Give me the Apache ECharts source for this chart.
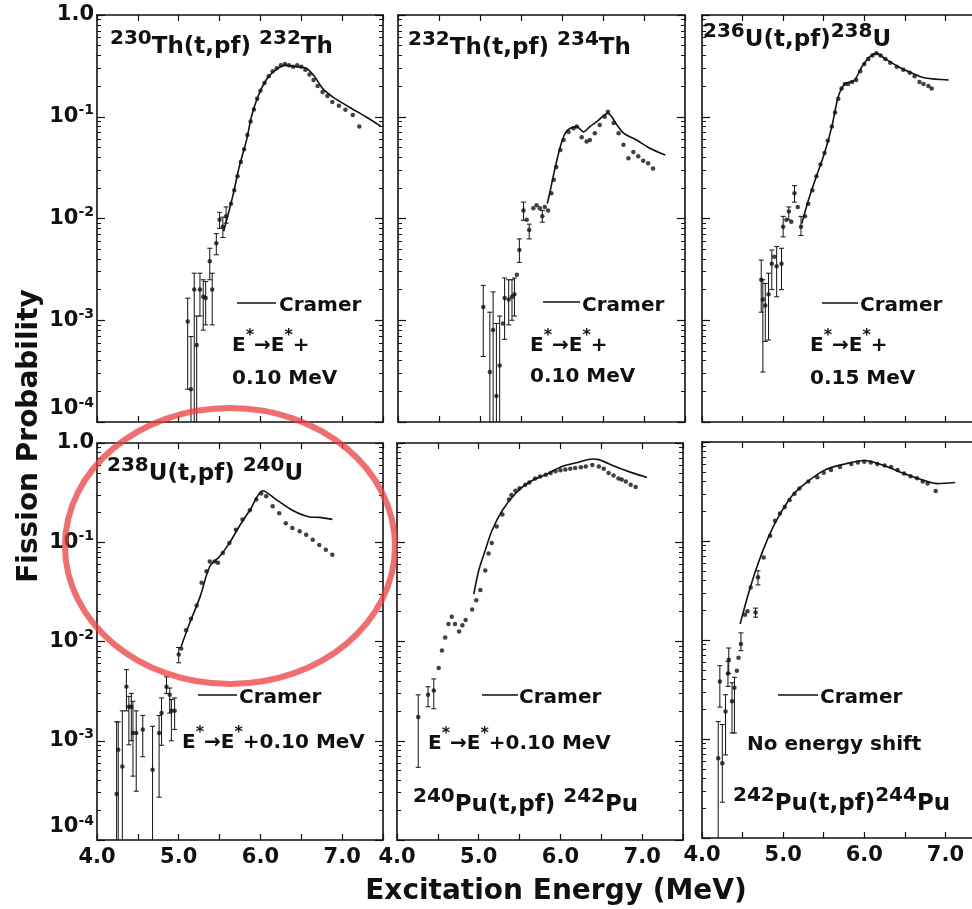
<!DOCTYPE html>
<html>
<head>
<meta charset="utf-8">
<script src="https://cdn.jsdelivr.net/npm/echarts@6.0.0/dist/echarts.min.js"></script>
<style>
	html, body { margin: 0; padding: 0; background: #fff; }
	#chart { width: 972px; height: 909px; }
</style>
</head>
<body>
<div id="chart"></div>
<script>
	// excitation energy (MeV) vs fission probability, one pair of arrays per reaction
	// points: [E, P] or [E, P, errLow, errHigh]
	const th230Cramer = [[5.55, 0.0075], [5.66, 0.0164], [5.74, 0.032], [5.83, 0.059], [5.89, 0.10], [5.97, 0.158], [6.07, 0.23], [6.19, 0.29], [6.31, 0.32], [6.43, 0.31], [6.56, 0.30], [6.66, 0.25], [6.76, 0.19], [6.88, 0.158], [7.09, 0.124], [7.29, 0.10], [7.47, 0.081]];
	const th230Points = [[5.11, 9.7e-4, 2.1e-4, 1.65e-3], [5.15, 2.1e-4, 5e-5, 6.9e-4], [5.19, 2.0e-3, 5e-5, 2.9e-3], [5.22, 5.7e-4, 5e-5, 1.1e-3], [5.26, 2.0e-3, 1.1e-3, 2.9e-3], [5.30, 1.7e-3, 8e-4, 2.5e-3], [5.33, 1.65e-3, 9e-4, 2.4e-3], [5.38, 3.8e-3, 2.5e-3, 5.1e-3], [5.41, 2.0e-3, 9e-4, 2.9e-3], [5.46, 5.7e-3, 4.4e-3, 7.1e-3], [5.50, 9.7e-3, 8e-3, 0.0115], [5.54, 8.3e-3, 6.5e-3, 0.0103], [5.58, 0.0105, 0.009, 0.013], [5.64, 0.014],
		[5.68, 0.019], [5.72, 0.026], [5.76, 0.036], [5.80, 0.048], [5.84, 0.066], [5.88, 0.09], [5.92, 0.118], [5.96, 0.15], [6.00, 0.18], [6.05, 0.215], [6.10, 0.25], [6.15, 0.28], [6.20, 0.30], [6.25, 0.32], [6.30, 0.33], [6.35, 0.32], [6.40, 0.31], [6.45, 0.32], [6.50, 0.31], [6.55, 0.29], [6.60, 0.26], [6.65, 0.23], [6.70, 0.20], [6.76, 0.175], [6.82, 0.16], [6.88, 0.14], [6.96, 0.128], [7.04, 0.117], [7.13, 0.104], [7.21, 0.080]];

	const th232Cramer = [[5.82, 0.014], [5.85, 0.0177], [5.91, 0.030], [5.98, 0.051], [6.04, 0.069], [6.10, 0.077], [6.18, 0.080], [6.26, 0.071], [6.34, 0.080], [6.42, 0.089], [6.56, 0.108], [6.67, 0.083], [6.75, 0.069], [6.91, 0.059], [7.07, 0.049], [7.26, 0.042]];
	const th232Points = [[5.04, 1.35e-3, 4.4e-4, 2.2e-3], [5.12, 3.1e-4, 5e-5, 1.2e-3], [5.16, 8e-4, 5e-5, 1.9e-3], [5.20, 1.8e-4, 5e-5, 9.3e-4], [5.24, 3.6e-4, 5e-5, 1.1e-3], [5.28, 9.3e-4], [5.30, 1.65e-3, 6.5e-4, 2.6e-3], [5.35, 1.6e-3, 9e-4, 2.5e-3], [5.39, 1.7e-3, 1.0e-3, 2.5e-3], [5.42, 1.8e-3, 1.1e-3, 2.6e-3], [5.45, 2.8e-3], [5.48, 4.9e-3, 3.7e-3, 6.3e-3],
		[5.53, 0.012, 0.0096, 0.0145], [5.57, 0.0097], [5.60, 0.0077, 0.0063, 0.0088], [5.65, 0.0126], [5.69, 0.0135], [5.73, 0.0126], [5.76, 0.0105, 0.0092, 0.012], [5.79, 0.013], [5.83, 0.012], [5.87, 0.0177], [5.90, 0.024], [5.93, 0.032], [5.98, 0.047], [6.02, 0.059], [6.08, 0.071], [6.14, 0.077], [6.18, 0.080], [6.24, 0.063], [6.30, 0.057], [6.34, 0.059], [6.40, 0.069], [6.46, 0.083], [6.52, 0.10], [6.56, 0.112], [6.63, 0.087], [6.69, 0.069], [6.75, 0.053], [6.81, 0.039], [6.87, 0.045], [6.93, 0.041], [6.99, 0.037], [7.05, 0.035], [7.11, 0.031]];

	const u236Cramer = [[5.23, 0.0089], [5.31, 0.015], [5.41, 0.026], [5.51, 0.044], [5.60, 0.080], [5.68, 0.158], [5.76, 0.21], [5.88, 0.23], [5.97, 0.31], [6.07, 0.39], [6.15, 0.42], [6.26, 0.37], [6.42, 0.31], [6.58, 0.27], [6.75, 0.24], [7.04, 0.23]];
	const u236Points = [[4.73, 2.5e-3, 1.2e-3, 3.9e-3], [4.75, 1.6e-3, 3.1e-4, 2.5e-3], [4.78, 1.4e-3, 6.2e-4, 2.3e-3], [4.82, 1.8e-3, 6.4e-4, 2.9e-3], [4.86, 3.6e-3, 2.0e-3, 4.9e-3], [4.89, 4.2e-3], [4.92, 3.4e-3, 1.7e-3, 5.3e-3], [4.98, 3.6e-3, 2.0e-3, 5.1e-3], [5.00, 8.3e-3, 6.6e-3, 0.0105], [5.04, 9.7e-3], [5.07, 0.0117, 0.0097, 0.013], [5.10, 9.3e-3], [5.14, 0.0177, 0.0145, 0.021], [5.18, 0.013], [5.22, 8.3e-3, 6.8e-3, 0.0105], [5.27, 0.0105], [5.31, 0.014],
		[5.36, 0.019], [5.41, 0.026], [5.46, 0.034], [5.51, 0.044], [5.55, 0.058], [5.60, 0.080], [5.64, 0.11], [5.68, 0.15], [5.72, 0.19], [5.76, 0.21], [5.80, 0.21], [5.85, 0.22], [5.90, 0.23], [5.95, 0.28], [6.00, 0.33], [6.05, 0.37], [6.10, 0.40], [6.15, 0.42], [6.20, 0.40], [6.26, 0.37], [6.32, 0.34], [6.40, 0.31], [6.48, 0.29], [6.56, 0.27], [6.62, 0.25], [6.68, 0.22], [6.73, 0.21], [6.79, 0.20], [6.83, 0.19]];

	const u238Cramer = [[5.03, 0.0089], [5.13, 0.015], [5.26, 0.028], [5.38, 0.057], [5.50, 0.072], [5.62, 0.098], [5.74, 0.144], [5.87, 0.21], [6.03, 0.33], [6.19, 0.27], [6.39, 0.21], [6.60, 0.18], [6.72, 0.178], [6.88, 0.17]];
	const u238Points = [[4.24, 2.9e-4, 5e-5, 1.55e-3], [4.26, 8.1e-4, 5e-5, 1.55e-3], [4.31, 5.5e-4, 5e-5, 2.0e-3], [4.36, 3.5e-3, 2.0e-3, 5.2e-3], [4.39, 2.2e-3, 9.1e-4, 2.8e-3], [4.42, 2.2e-3, 1.0e-3, 3.0e-3], [4.44, 1.2e-3, 4.4e-4, 2.5e-3], [4.48, 1.2e-3, 3.1e-4, 2.0e-3], [4.56, 1.3e-3, 6.9e-4, 1.8e-3], [4.68, 5.1e-4, 5e-5, 1.4e-3], [4.76, 1.2e-3, 2.7e-4, 1.8e-3], [4.79, 1.9e-3, 9e-4, 2.7e-3], [4.85, 3.5e-3, 3.0e-3, 4.4e-3], [4.89, 2.9e-3, 1.9e-3, 3.4e-3], [4.91, 2.0e-3, 1.0e-3, 2.6e-3], [4.95, 2.0e-3, 1.3e-3, 2.7e-3],
		[5.00, 0.0074, 0.0061, 0.0087], [5.03, 0.0085], [5.09, 0.013], [5.15, 0.017], [5.22, 0.023], [5.28, 0.039], [5.34, 0.051], [5.38, 0.064], [5.44, 0.064], [5.48, 0.062], [5.54, 0.078], [5.62, 0.098], [5.70, 0.134], [5.78, 0.17], [5.87, 0.21], [5.95, 0.27], [6.01, 0.31], [6.07, 0.29], [6.15, 0.23], [6.23, 0.196], [6.31, 0.155], [6.39, 0.139], [6.48, 0.129], [6.56, 0.119], [6.64, 0.106], [6.72, 0.094], [6.80, 0.084], [6.88, 0.075]];

	const pu240Cramer = [[4.94, 0.030], [5.00, 0.052], [5.08, 0.083], [5.16, 0.13], [5.29, 0.21], [5.45, 0.31], [5.61, 0.40], [5.82, 0.48], [6.02, 0.58], [6.22, 0.64], [6.39, 0.69], [6.47, 0.68], [6.67, 0.58], [6.88, 0.50], [7.06, 0.45]];
	const pu240Points = [[4.26, 1.74e-3, 5.4e-4, 2.9e-3], [4.38, 2.9e-3, 2.2e-3, 3.5e-3], [4.45, 3.2e-3, 2.1e-3, 4.2e-3], [4.51, 5.4e-3], [4.55, 8.1e-3], [4.59, 0.011], [4.63, 0.015], [4.67, 0.0178], [4.71, 0.015], [4.76, 0.0126], [4.80, 0.0146], [4.84, 0.0165], [4.92, 0.021], [4.97, 0.026], [5.02, 0.033], [5.08, 0.052], [5.12, 0.077], [5.16, 0.098], [5.22, 0.144], [5.29, 0.19], [5.37, 0.27], [5.40, 0.30], [5.45, 0.33], [5.50, 0.35], [5.57, 0.38], [5.62, 0.40],
		[5.69, 0.44], [5.75, 0.46], [5.82, 0.48], [5.88, 0.50], [5.94, 0.52], [6.00, 0.53], [6.06, 0.54], [6.12, 0.55], [6.18, 0.56], [6.25, 0.57], [6.31, 0.58], [6.39, 0.60], [6.47, 0.58], [6.53, 0.55], [6.59, 0.50], [6.65, 0.47], [6.71, 0.44], [6.75, 0.43], [6.80, 0.41], [6.86, 0.38], [6.92, 0.36]];

	const pu242Cramer = [[4.47, 0.0145], [4.57, 0.029], [4.69, 0.059], [4.82, 0.11], [4.94, 0.174], [5.10, 0.28], [5.27, 0.38], [5.51, 0.52], [5.76, 0.60], [6.00, 0.65], [6.24, 0.58], [6.49, 0.48], [6.73, 0.41], [6.90, 0.38], [7.12, 0.39]];
	const pu242Points = [[4.20, 6.4e-4, 5e-5, 1.5e-3], [4.22, 3.8e-3, 2.1e-3, 5.5e-3], [4.25, 5.7e-4, 2.3e-4, 1.4e-3], [4.29, 1.9e-3, 6.9e-4, 2.8e-3], [4.32, 4.6e-3, 3.4e-3, 6.1e-3], [4.33, 6.3e-3, 4.6e-3, 8.3e-3], [4.37, 2.4e-3, 1.15e-3, 3.7e-3], [4.40, 3.3e-3, 1.15e-3, 4.2e-3], [4.43, 4.9e-3], [4.45, 6.6e-3], [4.48, 9.1e-3, 7.8e-3, 0.0118], [4.53, 0.018], [4.56, 0.0195], [4.60, 0.034], [4.66, 0.019, 0.017, 0.021], [4.69, 0.043, 0.036, 0.05],
		[4.76, 0.068], [4.84, 0.113], [4.90, 0.16], [4.96, 0.19], [5.02, 0.22], [5.08, 0.26], [5.14, 0.30], [5.20, 0.34], [5.31, 0.40], [5.42, 0.44], [5.50, 0.49], [5.59, 0.52], [5.70, 0.56], [5.84, 0.60], [5.92, 0.62], [6.00, 0.63], [6.08, 0.62], [6.16, 0.60], [6.25, 0.58], [6.33, 0.56], [6.41, 0.52], [6.49, 0.48], [6.57, 0.45], [6.65, 0.43], [6.72, 0.40], [6.78, 0.38], [6.88, 0.32]];

	const xTickValues = [4, 5, 6, 7];
	const xTickLabels = ['4.0', '5.0', '6.0', '7.0'];
	const yTickExponents = [-4, -3, -2, -1, 0];
	const yTickLabels = ['10{s|-4}', '10{s|-3}', '10{s|-2}', '10{s|-1}', '1.0'];

	const ink = '#111';
	const font = 'DejaVu Sans';

	// third column runs past the right edge of the page, as in the scan
	const panels = [
		{box: {left: 97, top: 15, width: 286, height: 407}, row: 0, col: 0, cramer: th230Cramer, points: th230Points},
		{box: {left: 398, top: 15, width: 287, height: 407}, row: 0, col: 1, cramer: th232Cramer, points: th232Points},
		{box: {left: 702, top: 15, width: 284, height: 407}, row: 0, col: 2, cramer: u236Cramer, points: u236Points},
		{box: {left: 97, top: 443, width: 286, height: 397}, row: 1, col: 0, cramer: u238Cramer, points: u238Points},
		{box: {left: 397, top: 443, width: 286, height: 397}, row: 1, col: 1, cramer: pu240Cramer, points: pu240Points},
		{box: {left: 702, top: 442, width: 284, height: 396}, row: 1, col: 2, cramer: pu242Cramer, points: pu242Points},
	];

	function xAxisOpt(i, pos, labels) {
		return {
			type: 'value',
			gridIndex: i,
			position: pos,
			min: 4,
			max: 7.5,
			interval: 0.5,
			axisLine: {show: true, onZero: false, lineStyle: {color: ink, width: 1.6}},
			axisTick: {show: true, inside: true, length: 6, lineStyle: {color: ink, width: 1.2}},
			axisLabel: {
				show: labels,
				margin: 7,
				color: ink,
				fontSize: 21,
				fontWeight: 'bold',
				fontFamily: font,
				showMinLabel: true,
				showMaxLabel: true,
				formatter: function (v) {
					const k = xTickValues.indexOf(Math.round(v * 10) / 10);
					return k < 0 ? '' : xTickLabels[k];
				}
			},
			splitLine: {show: false}
		};
	}

	function yAxisOpt(i, pos, labels) {
		return {
			type: 'log',
			logBase: 10,
			gridIndex: i,
			position: pos,
			min: 0.0001,
			max: 1,
			axisLine: {show: true, onZero: false, lineStyle: {color: ink, width: 1.6}},
			axisTick: {show: true, inside: true, length: 8, lineStyle: {color: ink, width: 1.2}},
			minorTick: {show: true, splitNumber: 9, length: 4, lineStyle: {color: ink, width: 1}},
			axisLabel: {
				show: labels,
				margin: 3,
				color: ink,
				fontSize: 21,
				fontWeight: 'bold',
				fontFamily: font,
				showMinLabel: true,
				showMaxLabel: true,
				verticalAlignMinLabel: 'bottom',
				formatter: function (v) {
					const k = yTickExponents.indexOf(Math.round(Math.log10(v)));
					return k < 0 ? '' : yTickLabels[k];
				},
				rich: {
					s: {fontSize: 14, fontWeight: 'bold', fontFamily: font, color: ink, verticalAlign: 'top', lineHeight: 26}
				}
			},
			splitLine: {show: false},
			minorSplitLine: {show: false}
		};
	}

	function renderBar(params, api) {
		const e = api.value(0);
		const top = api.coord([e, api.value(3)]);
		const bot = api.coord([e, api.value(2)]);
		const cap = 2.5;
		const st = {stroke: ink, lineWidth: 1};
		return {
			type: 'group',
			children: [
				{type: 'line', shape: {x1: top[0], y1: top[1], x2: bot[0], y2: bot[1]}, style: st},
				{type: 'line', shape: {x1: top[0] - cap, y1: top[1], x2: top[0] + cap, y2: top[1]}, style: st},
				{type: 'line', shape: {x1: bot[0] - cap, y1: bot[1], x2: bot[0] + cap, y2: bot[1]}, style: st}
			]
		};
	}

	const grids = [], xAxes = [], yAxes = [], series = [];
	panels.forEach(function (p, i) {
		grids.push(Object.assign({outerBoundsMode: 'none', containLabel: false}, p.box));
		xAxes.push(xAxisOpt(i, 'bottom', p.row === 1));
		xAxes.push(xAxisOpt(i, 'top', false));
		yAxes.push(yAxisOpt(i, 'left', p.col === 0));
		yAxes.push(yAxisOpt(i, 'right', false));
		series.push({
			type: 'line',
			xAxisIndex: 2 * i,
			yAxisIndex: 2 * i,
			data: p.cramer,
			smooth: 0.3,
			showSymbol: false,
			lineStyle: {color: ink, width: 1.6},
			z: 3
		});
		series.push({
			type: 'scatter',
			xAxisIndex: 2 * i,
			yAxisIndex: 2 * i,
			data: p.points.map(function (d) { return [d[0], d[1]]; }),
			symbolSize: 4.5,
			itemStyle: {color: ink},
			z: 2
		});
		series.push({
			type: 'custom',
			xAxisIndex: 2 * i,
			yAxisIndex: 2 * i,
			data: p.points.filter(function (d) { return d.length === 4; }),
			encode: {x: 0, y: [2, 3]},
			renderItem: renderBar,
			clip: true,
			z: 2
		});
	});

	// text pieces drawn on top of the panels
	const richText = {
		m: {fontSize: 23, fontWeight: 'bold', fontFamily: font, fill: ink, verticalAlign: 'bottom', lineHeight: 30},
		s: {fontSize: 20, fontWeight: 'bold', fontFamily: font, fill: ink, verticalAlign: 'top', lineHeight: 30},
		n: {fontSize: 20, fontWeight: 'bold', fontFamily: font, fill: ink, verticalAlign: 'bottom', lineHeight: 28},
		t: {fontSize: 16, fontWeight: 'bold', fontFamily: font, fill: ink, verticalAlign: 'top', lineHeight: 28}
	};

	function label(x, y, text) {
		return {type: 'text', x: x, y: y, z: 10, style: {text: text, rich: richText, align: 'left', verticalAlign: 'middle'}};
	}

	function legendLine(x1, x2, y) {
		return {type: 'line', z: 10, shape: {x1: x1, y1: y, x2: x2, y2: y}, style: {stroke: ink, lineWidth: 1.6}};
	}

	const eShift = '{n|E}{t|*}{n|→E}{t|*}{n|+}';

	const graphics = [
		label(110, 44, '{s|230}{m|Th(t,pf) }{s|232}{m|Th}'),
		label(408, 45, '{s|232}{m|Th(t,pf) }{s|234}{m|Th}'),
		label(703, 37, '{s|236}{m|U(t,pf)}{s|238}{m|U}'),
		label(107, 471, '{s|238}{m|U(t,pf) }{s|240}{m|U}'),
		label(413, 802, '{s|240}{m|Pu(t,pf) }{s|242}{m|Pu}'),
		label(733, 801, '{s|242}{m|Pu(t,pf)}{s|244}{m|Pu}'),

		legendLine(237, 276, 303), label(279, 302, '{n|Cramer}'),
		label(232, 342, eShift), label(232, 375, '{n|0.10 MeV}'),
		legendLine(543, 580, 302), label(582, 302, '{n|Cramer}'),
		label(530, 342, eShift), label(530, 373, '{n|0.10 MeV}'),
		legendLine(822, 858, 303), label(860, 302, '{n|Cramer}'),
		label(810, 342, eShift), label(810, 375, '{n|0.15 MeV}'),
		legendLine(198, 237, 695), label(239, 694, '{n|Cramer}'),
		label(182, 739, eShift + '{n|0.10 MeV}'),
		legendLine(482, 518, 695), label(519, 694, '{n|Cramer}'),
		label(428, 740, eShift + '{n|0.10 MeV}'),
		legendLine(778, 818, 695), label(820, 694, '{n|Cramer}'),
		label(747, 741, '{n|No energy shift}'),

		{type: 'text', x: 30, y: 436, rotation: Math.PI / 2, z: 10,
			style: {text: 'Fission Probability', fontSize: 28, fontWeight: 'bold', fontFamily: font, fill: ink, align: 'center', verticalAlign: 'middle'}},
		{type: 'text', x: 556, y: 892, z: 10,
			style: {text: 'Excitation Energy (MeV)', fontSize: 28, fontWeight: 'bold', fontFamily: font, fill: ink, align: 'center', verticalAlign: 'middle'}},

		// highlight ring around the 238U panel
		{type: 'ellipse', z: 20, shape: {cx: 230, cy: 546, rx: 165, ry: 138},
			style: {fill: null, stroke: 'rgba(238,60,60,0.75)', lineWidth: 6}}
	];

	const option = {
		backgroundColor: '#fff',
		animation: false,
		textStyle: {fontFamily: font},
		grid: grids,
		xAxis: xAxes,
		yAxis: yAxes,
		series: series,
		graphic: graphics
	};

	const chart = echarts.init(document.getElementById('chart'), null, {renderer: 'canvas'});
	chart.setOption(option);
</script>
</body>
</html>
